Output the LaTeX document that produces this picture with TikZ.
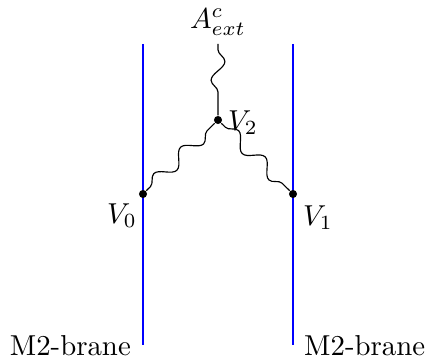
\documentclass[tikz,border=0pt]{standalone}
\usetikzlibrary{decorations.pathmorphing}
\begin{document}
\begin{tikzpicture}[x=0.347pt,y=-0.347pt,
  brane/.style={blue,line width=0.7pt},
  photon/.style={decorate,decoration={snake,segment length=13pt,amplitude=2.4pt,pre length=2pt,post length=2pt}},
  vdot/.style={circle,fill=black,inner sep=0pt,minimum size=2.8pt}]
\useasboundingbox (0,0) rectangle (427,360);
\coordinate (L0) at (143,44);
\coordinate (L1) at (143,345);
\coordinate (R0) at (293,44);
\coordinate (R1) at (293,345);
\draw[brane] (L0) -- (L1);
\draw[brane] (R0) -- (R1);
\node[vdot] (v0) at (143,194) {};
\node[vdot] (v1) at (293,194) {};
\node[vdot] (v2) at (218,120) {};
\coordinate (ext) at (218,44);
\node (A) at (218,22) {$A^c_{ext}$};
\draw[photon] (ext) -- (v2);
\draw[photon] (v0) -- (v2);
\draw[photon] (v2) -- (v1);
\node (l0) at (122,216) {$V_0$};
\node (l1) at (318,218) {$V_1$};
\node (l2) at (243,123) {$V_2$};
\node[anchor=east] (m0) at (141,346) {M2-brane};
\node[anchor=west] (m1) at (294,346) {M2-brane};
\end{tikzpicture}
\end{document}
